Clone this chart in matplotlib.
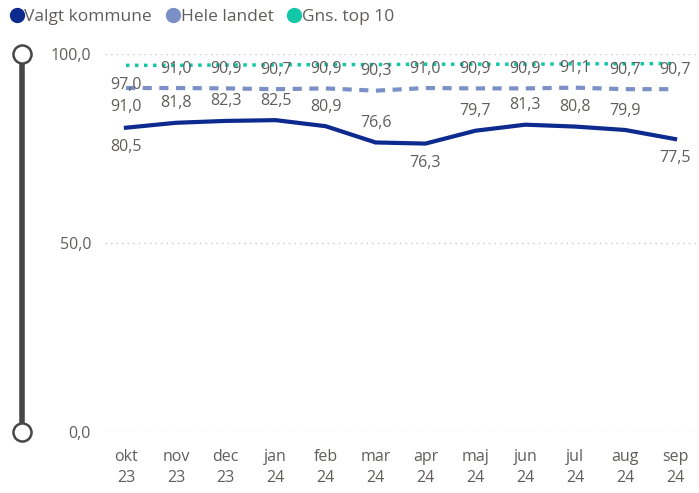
import matplotlib
matplotlib.use('Agg')
import matplotlib.pyplot as plt
from matplotlib.lines import Line2D
import numpy as np

plt.rcParams['font.family'] = ['Open Sans', 'DejaVu Sans']

# data
months = ['okt\n23', 'nov\n23', 'dec\n23', 'jan\n24', 'feb\n24', 'mar\n24',
          'apr\n24', 'maj\n24', 'jun\n24', 'jul\n24', 'aug\n24', 'sep\n24']
valgt = [80.5, 81.8, 82.3, 82.5, 80.9, 76.6, 76.3, 79.7, 81.3, 80.8, 79.9, 77.5]
hele = [91.0, 91.0, 90.9, 90.7, 90.9, 90.3, 91.0, 90.9, 90.9, 91.1, 90.7, 90.7]
top10 = [97.0, 97.0, 97.1, 97.1, 97.2, 97.2, 97.3, 97.3, 97.3, 97.4, 97.4, 97.5]

# which side Power BI put the labels (+1 above, -1 below)
valgt_side = [-1, 1, 1, 1, 1, 1, -1, 1, 1, 1, 1, -1]
hele_side = [-1] + [1] * 11

c_valgt = '#0D2A8E'
c_hele = '#7B90C6'
c_top = '#12C6A8'
c_text = '#605E5C'
fs = 11.5

W, H = 699, 493
fig = plt.figure(figsize=(W / 100, H / 100), dpi=100)
ax = fig.add_axes([105 / W, 1 - 432 / H, 594 / W, 378 / H])

x = np.arange(len(months))
ax.plot(x, top10, color=c_top, lw=2.5, ls=(0, (1, 1.6)), label='Gns. top 10')
ax.plot(x, hele, color=c_hele, lw=3, ls=(0, (2.2, 1.8)), label='Hele landet')
ax.plot(x, valgt, color=c_valgt, lw=3, label='Valgt kommune')

fmt = lambda v: f'{v:.1f}'.replace('.', ',')
for xi, v, s in zip(x, valgt, valgt_side):
    ax.annotate(fmt(v), (xi, v), xytext=(0, 14 * s), textcoords='offset points',
                ha='center', va='center', color=c_text, fontsize=fs, clip_on=False)
for xi, v, s in zip(x, hele, hele_side):
    ax.annotate(fmt(v), (xi, v), xytext=(0, 14 * s), textcoords='offset points',
                ha='center', va='center', color=c_text, fontsize=fs, clip_on=False)
# only the first top-10 label survives the overlap removal
ax.annotate(fmt(top10[0]), (x[0], top10[0]), xytext=(0, -14), textcoords='offset points',
            ha='center', va='center', color=c_text, fontsize=fs)

ax.set_xlim(-0.42, 11.48)
ax.set_ylim(0, 100)
ax.set_yticks([0, 50, 100])
ax.set_yticklabels([fmt(v) for v in [0, 50, 100]])
ax.set_xticks(x)
ax.set_xticklabels(months, linespacing=1.45)
ax.tick_params(length=0, colors=c_text, labelsize=fs)
ax.tick_params(axis='y', pad=10)
ax.tick_params(axis='x', pad=12)
for sp in ax.spines.values():
    sp.set_visible(False)
ax.grid(axis='y', color='#C8C8C8', ls=(0, (1, 3)), lw=1)
ax.set_axisbelow(True)

# range slider on the left
sx = 22 / W
y0, y1 = 1 - 432 / H, 1 - 54 / H
fig.add_artist(Line2D([sx, sx], [y0, y1], color='#474747', lw=4, transform=fig.transFigure))
fig.add_artist(Line2D([sx, sx], [y0, y1], ls='none', marker='o', ms=13, mfc='white',
                      mec='#474747', mew=1.8, transform=fig.transFigure))

handles = [Line2D([], [], ls='none', marker='o', ms=10, color=c) for c in (c_valgt, c_hele, c_top)]
fig.legend(handles, ['Valgt kommune', 'Hele landet', 'Gns. top 10'], loc='upper left',
           bbox_to_anchor=(-0.006, 1.014), ncol=3, frameon=False, handlelength=0.6,
           handletextpad=0.15, columnspacing=0.9, fontsize=12.5, labelcolor=c_text)

fig.savefig('out.png', dpi=100)
